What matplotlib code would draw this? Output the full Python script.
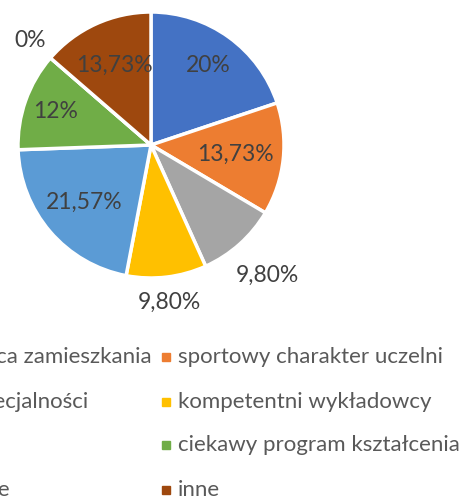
import numpy as np
import matplotlib.pyplot as plt
from matplotlib.patches import Rectangle

plt.rcParams['font.family'] = ['Lato', 'DejaVu Sans']

# data
labels = ['bliskość miejsca zamieszkania', 'sportowy charakter uczelni',
          'unikatowe specjalności', 'kompetentni wykładowcy',
          'prestiż', 'ciekawy program kształcenia',
          'dobre zaplecze', 'inne']
values = [20.0, 13.73, 9.80, 9.80, 21.57, 12.0, 0.0, 13.73]
pct_text = ['20%', '13,73%', '9,80%', '9,80%', '21,57%', '12%', '0%', '13,73%']
colors = ['#4472C4', '#ED7D31', '#A5A5A5', '#FFC000',
          '#5B9BD5', '#70AD47', '#264478', '#9E480E']
# radial position of each label (fraction of radius)
label_r = [0.74, 0.64, 1.31, 1.19, 0.66, 0.76, 1.2, 0.66]

W, H = 459, 501
fig = plt.figure(figsize=(W / 100, H / 100), dpi=100)

cx, cy, R = 151, 145, 133   # pie centre / radius in pixels
ax = fig.add_axes([(cx - R) / W, (H - cy - R) / H, 2 * R / W, 2 * R / H])
wedges, _ = ax.pie(values, colors=colors, startangle=90, counterclock=False,
                   wedgeprops=dict(edgecolor='white', linewidth=2.5))
ax.set_xlim(-1, 1)
ax.set_ylim(-1, 1)
ax.set_aspect('equal')

total = sum(values)
start = 0.0
for v, txt, r in zip(values, pct_text, label_r):
    mid = np.deg2rad(90 - (start + v / 2) / total * 360)
    start += v
    ax.text(r * np.cos(mid), r * np.sin(mid), txt, ha='center', va='center',
            fontsize=16.5, color='#404040')

# legend (two columns, left one runs off the picture)
col_x = [-153, 162]
row_y = [357, 402, 445, 490]
for i, (lab, c) in enumerate(zip(labels, colors)):
    x = col_x[i % 2]
    y = row_y[i // 2]
    fig.patches.append(Rectangle(((x) / W, 1 - (y + 4) / H), 8 / W, 8 / H,
                                 transform=fig.transFigure, color=c))
    fig.text((x + 16) / W, 1 - y / H, lab, ha='left', va='center',
             fontsize=16, color='#595959')

plt.savefig('out.png', dpi=100)
